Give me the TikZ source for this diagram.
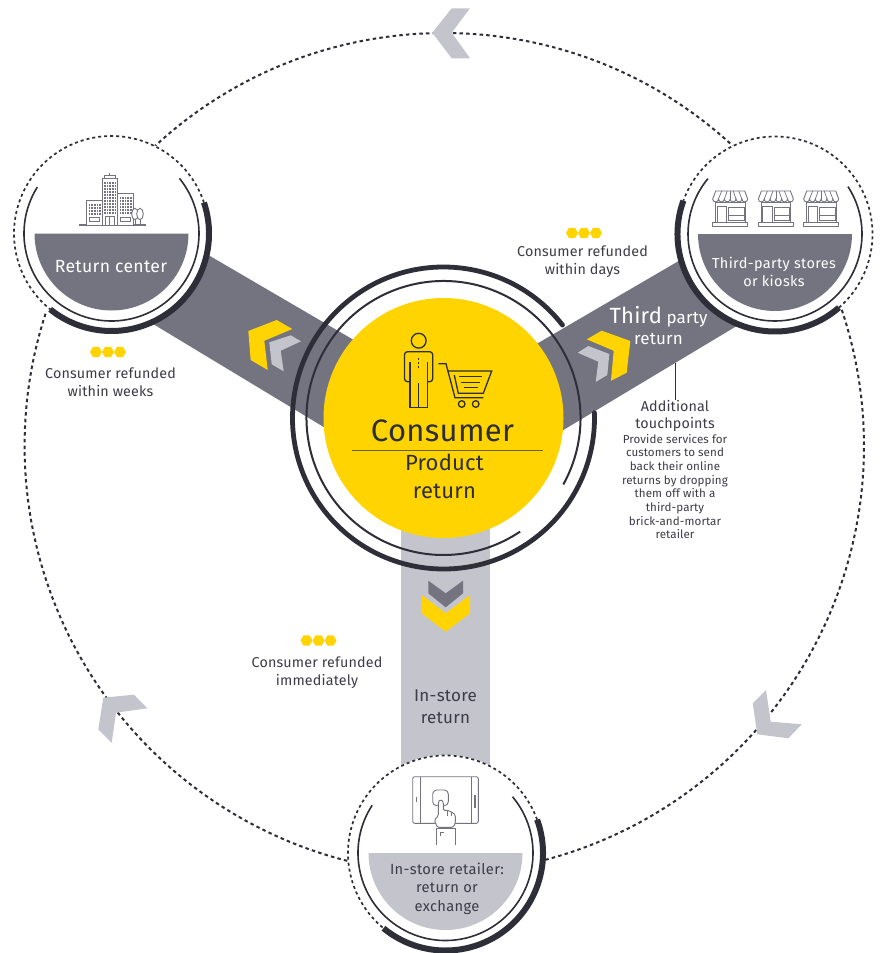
\documentclass[tikz,border=0pt]{standalone}
\usepackage{fontspec}
\setmainfont{Fira Sans}
\definecolor{eydark}{HTML}{2E2E38}
\definecolor{eygrey}{HTML}{747480}
\definecolor{eylight}{HTML}{C4C4CD}
\definecolor{eyyellow}{HTML}{FFD400}
\definecolor{eytext}{HTML}{3C3C46}
\newcommand{\fs}[1]{\fontsize{#1}{#1}\selectfont}
\tikzset{
  lab/.style={inner sep=0pt,align=center,text=eytext,font=\fs{14.3}\addfontfeatures{LetterSpace=1.2},text depth=0pt},
  bigdash/.style={draw=eydark,line width=2pt,dash pattern=on 3.5pt off 3.2pt},
  smalldash/.style={draw=eydark,line width=1.7pt,dash pattern=on 3pt off 3pt},
  thinring/.style={draw=eydark,line width=1.6pt},
  thickring/.style={draw=eydark,line width=6pt},
  satdisc/.style={circle,fill=white,inner sep=0pt,minimum size=196pt},
  icon/.style={draw=eygrey,line width=0.9pt,fill=white},
  pers/.style={draw=eydark,line width=1.3pt},
  storeicon/.pic={
    \draw[icon] (3,11) rectangle (32.5,31);
    \draw[icon] (0,31) rectangle (35,35);
    \draw[icon] (4.5,15.5) rectangle (14,31);
    \draw[icon] (16,16) rectangle (31.5,24);
    \draw[icon] (16,24) rectangle (31.5,29);
    \draw[icon] (3,0) -- (32,0) -- (35,8) arc[start angle=0,end angle=180,radius=2.92] arc[start angle=0,end angle=180,radius=2.92] arc[start angle=0,end angle=180,radius=2.92] arc[start angle=0,end angle=180,radius=2.92] arc[start angle=0,end angle=180,radius=2.92] arc[start angle=0,end angle=180,radius=2.92] -- cycle;
    \foreach \xa/\xb in {5.8/9,11.7/14.5,17.5/17.5,23.3/20.5,29.2/26}
      \draw[draw=eygrey,line width=0.7pt] (\xa,8) -- (\xb,0);
  },
  hexdots/.pic={
    \foreach \hx in {-12,0,12}
      \fill[eyyellow] (\hx,0) +(0:6) -- +(60:6) -- +(120:6) -- +(180:6) -- +(240:6) -- +(300:6) -- cycle;
  }
}
\begin{document}
\begin{tikzpicture}[x=1pt,y=1pt]
\useasboundingbox (0,0) rectangle (881,-953);
\fill[white] (0,0) rectangle (881,-953);

% named anchors
\coordinate (mid) at (443.5,-418);
\coordinate (topc) at (444,-459);
\coordinate (leftc) at (452.6,-446);
\coordinate (rightc) at (436,-446);

% bands
\fill[eygrey] (150,-221) -- (400,-367) -- (380,-461) -- (120,-304) -- cycle;
\fill[eygrey] (730,-231) -- (480,-377) -- (500,-468) -- (770,-306) -- cycle;
\fill[eylight] (401,-500) rectangle (490,-800);

% large dashed arcs
\draw[bigdash,shift={(topc)}] (46:426) arc[start angle=46,end angle=134,radius=426];
\draw[bigdash,shift={(leftc)}] (162:428) arc[start angle=162,end angle=257,radius=428];
\draw[bigdash,shift={(rightc)}] (-77:428) arc[start angle=-77,end angle=19,radius=428];

% satellites
\node[satdisc] (rc) at (111.5,-233.5) {};
\node[satdisc] (tp) at (775,-234) {};
\node[satdisc] (is) at (445.5,-853) {};

% half discs
\fill[eygrey,shift={(rc.center)}] (-77,0) arc[start angle=180,end angle=360,radius=77] -- cycle;
\fill[eygrey,shift={(tp.center)}] (-77,0) arc[start angle=180,end angle=360,radius=77] -- cycle;
\fill[eylight,shift={(is.center)}] (-77,0) arc[start angle=180,end angle=360,radius=77] -- cycle;

% rings of satellites
\draw[thinring,shift={(rc.center)}] (148:87.5) arc[start angle=148,end angle=399,radius=87.5];
\draw[smalldash,shift={(rc.center)}] (18.5:97.5) arc[start angle=18.5,end angle=231,radius=97.5];
\draw[thickring,shift={(rc.center)}] (18.5:97.5) arc[start angle=18.5,end angle=-129,radius=97.5];

\draw[thinring,shift={(tp.center)}] (140.5:87) arc[start angle=140.5,end angle=393,radius=87];
\draw[smalldash,shift={(tp.center)}] (-49:97.5) arc[start angle=-49,end angle=160,radius=97.5];
\draw[thickring,shift={(tp.center)}] (160:97.5) arc[start angle=160,end angle=311,radius=97.5];

\draw[thinring,shift={(is.center)}] (147:87.5) arc[start angle=147,end angle=400,radius=87.5];
\draw[smalldash,shift={(is.center)}] (20:97.5) arc[start angle=20,end angle=230.5,radius=97.5];
\draw[thickring,shift={(is.center)}] (20:97.5) arc[start angle=20,end angle=-129.5,radius=97.5];

% centre
\fill[eyyellow] (mid) circle[radius=120];
\draw[thinring,line width=2pt,shift={(mid)}] (-29:137) arc[start angle=-29,end angle=304,radius=137];
\draw[draw=eydark,line width=4.8pt,line cap=round,shift={(mid)}] (38:151) arc[start angle=38,end angle=362,radius=151];

% chevrons in bands
\fill[eyyellow] (248.3,-331) -- (276.7,-320) -- (292.3,-329) -- (264.3,-340.7) -- (267.7,-370) -- (250.7,-360) -- cycle;
\fill[eylight] (269.3,-342.3) -- (290.7,-335.3) -- (301,-341.3) -- (280.7,-350.7) -- (283.7,-371.3) -- (271.7,-364.3) -- cycle;
\fill[eyyellow] (586.7,-339.3) -- (601.7,-330.7) -- (630.3,-341) -- (626.7,-372.7) -- (611,-380.7) -- (613.7,-350.7) -- cycle;
\fill[eylight] (577.7,-352.7) -- (588.3,-346) -- (609.3,-354) -- (607.3,-375) -- (595.7,-382) -- (598.3,-361.7) -- cycle;
\fill[eygrey] (428.3,-580.7) -- (445.7,-593.3) -- (463,-580.7) -- (463,-593.3) -- (445.7,-607.3) -- (428.3,-593.3) -- cycle;
\fill[eyyellow] (421.7,-595) -- (445.7,-613.3) -- (470,-595) -- (470,-613.3) -- (445.7,-631.7) -- (421.7,-613.3) -- cycle;

% chevrons on big circle
\fill[eylight] (451.7,-8.3) -- (470,-8.3) -- (451.7,-32.7) -- (470,-58.3) -- (451.7,-58.3) -- (432.3,-32.7) -- cycle;
\fill[eylight] (103.3,-697.7) -- (134,-694.7) -- (147.3,-708.3) -- (116,-712.7) -- (111.7,-742.7) -- (98.3,-729.3) -- cycle;
\fill[eylight] (766,-690) -- (770.7,-721.7) -- (801.7,-724.3) -- (788.3,-738.3) -- (757.3,-734.3) -- (752.7,-703.3) -- cycle;

% building icon
\draw[eygrey,line width=1.7pt] (79,-225) -- (146,-225);
\draw[eygrey,line width=1pt] (109.7,-173) -- (109.7,-178);
\draw[icon] (104.7,-175) rectangle (115,-178.5);
\draw[icon] (102,-178.5) rectangle (117.3,-225);
\draw[icon] (86.7,-200.7) rectangle (102,-225);
\draw[icon] (117.3,-193.3) rectangle (133.3,-225);
\foreach \wx in {104.2,106.8,109.4,112,114.6}
  \foreach \wy in {-182,-185,-188,-191,-194,-197,-200,-203,-206,-209,-212}
    \fill[eygrey] (\wx,\wy) rectangle +(1.5,-1.5);
\foreach \wx in {88.8,91.4,94,96.6,99.2}
  \foreach \wy in {-204,-207,-210,-213}
    \fill[eygrey] (\wx,\wy) rectangle +(1.5,-1.5);
\foreach \wx in {119.6,122.2,124.8,127.4,130}
  \foreach \wy in {-197,-200,-203,-206,-209,-212}
    \fill[eygrey] (\wx,\wy) rectangle +(1.5,-1.5);
\draw[icon] (89.5,-217.5) rectangle (99,-221.5);
\draw[icon] (120.5,-217.5) rectangle (130,-221.5);
\draw[icon] (105.5,-216) rectangle (114,-225);
\draw[eygrey,line width=1pt] (109.7,-216) -- (109.7,-225);
\foreach \tx in {135,140} {
  \draw[eygrey,line width=0.9pt] (\tx,-218) -- (\tx,-225);
  \draw[icon] (\tx,-214) ellipse[x radius=3.3,y radius=5.7];
}

% store icons
\pic at (712.7,-191) [yscale=-1] {storeicon};
\pic at (758.4,-191) [yscale=-1] {storeicon};
\pic at (803.7,-191) [yscale=-1] {storeicon};

% tablet icon
\draw[icon,rounded corners=2pt,fill=none] (412.7,-776.7) rectangle (478.3,-823.3);
\draw[eygrey,line width=1pt] (420,-776.7) -- (420,-823.3);
\draw[eygrey,line width=1pt] (471.5,-776.7) -- (471.5,-823.3);
\fill[eygrey] (415.5,-797) rectangle (416.8,-802);
\fill[eygrey] (474.2,-795) rectangle (475.5,-808);
\draw[icon,rounded corners=4pt,fill=none] (432.7,-790) rectangle (448.3,-805.7);
\draw[icon,rounded corners=1.5pt] (437.3,-827.3) -- (434.3,-820) -- (438.3,-816) -- (438.3,-801.7) -- (440.7,-799.3) -- (443.3,-801.7) -- (443.3,-810.7) -- (447.3,-810) -- (449.3,-811.3) -- (453.3,-812.7) -- (455.3,-815) -- (455.3,-823.3) -- (453.3,-827.3) -- cycle;
\draw[eygrey,line width=0.8pt] (447.3,-810) -- (447.3,-816) (451.3,-812) -- (451.3,-816);
\draw[icon,fill=none] (436.7,-845) -- (436.7,-828) -- (455,-828) -- (455,-845);
\draw[eygrey,line width=0.8pt] (440,-836) -- (440,-832) -- (444,-832);

% person icon
\draw[pers] (418.7,-340.7) circle[radius=7.4];
\draw[pers,rounded corners=3pt] (410,-381.7) -- (404.5,-381.7) -- (404.5,-351.7) -- (432.7,-351.7) -- (432.7,-381.7) -- (427.3,-381.7);
\draw[pers] (410,-362) -- (410,-407.7) -- (427.3,-407.7) -- (427.3,-362);
\draw[pers] (418.7,-383) -- (418.7,-407.7);
\draw[pers,line width=1.5pt,dash pattern=on 2pt off 2pt] (418.7,-358) -- (418.7,-370);
% cart icon
\draw[pers] (438.3,-363.7) -- (446,-363.7) -- (455,-397.7) -- (483.3,-397.7);
\draw[pers] (447,-371) -- (491.7,-371) -- (483.3,-393.3) -- (458.3,-393.3) -- (454.3,-375);
\draw[pers,line width=1.5pt] (459,-376.7) -- (481.7,-376.7) (461,-382.3) -- (480,-382.3) (464.3,-387.7) -- (478.3,-387.7);
\draw[pers] (461.7,-404) circle[radius=3.3] (475.7,-404) circle[radius=3.3];

% hexagon dots
\pic at (108,-352) {hexdots};
\pic at (584,-233) {hexdots};
\pic at (318.5,-640.5) {hexdots};

% labels
\node[lab,text=white,font=\fs{17.6}\addfontfeatures{LetterSpace=1.8}] (t1) at (111,-266) {Return center};
\node[lab,text=white,font=\fs{14.5}\addfontfeatures{LetterSpace=2.6}] (t2) at (774,-272) {Third-party stores\\[3pt]or kiosks};
\node[lab,font=\fs{14.7}\addfontfeatures{LetterSpace=2.2}] (t3) at (447,-887) {In-store retailer:\\[4pt]return or\\[4pt]exchange};
\node[lab,text=eydark,font=\fs{31}\addfontfeatures{LetterSpace=1}] (t4) at (442.5,-431) {Consumer};
\draw[draw=eydark!70!eyyellow,line width=0.8pt] (351.5,-450) -- (542.5,-450);
\node[lab,text=eydark,font=\fs{22}\addfontfeatures{LetterSpace=1}] (t5) at (444.5,-476) {Product\\[6pt]return};
\node[lab] (t6) at (110.5,-382) {Consumer refunded\\[3.7pt]within weeks};
\node[lab] (t7) at (582.5,-260) {Consumer refunded\\[3.7pt]within days};
\node[lab] (t8) at (317,-671) {Consumer refunded\\[3.7pt]immediately};
\node[lab,text=white,font=\fs{17}\addfontfeatures{LetterSpace=1}] (t9) at (658.5,-325.5) {{\fs{22}Third} party\\[4pt]return};
\node[lab,font=\fs{14.3}\addfontfeatures{LetterSpace=1}] (t10) at (675,-414.5) {Additional\\[2.7pt]touchpoints};
\node[lab,font=\fs{11.6}\addfontfeatures{LetterSpace=0.7}] (t11) at (675,-486.5) {Provide services for\\[2.1pt]customers to send\\[2.1pt]back their online\\[2.1pt]returns by dropping\\[2.1pt]them off with a\\[2.1pt]third-party\\[2.1pt]brick-and-mortar\\[2.1pt]retailer};
\node[lab,font=\fs{17}\addfontfeatures{LetterSpace=1.5}] (t12) at (445.5,-707) {In-store\\[5pt]return};
\coordinate (leader) at (675.3,-363);
\draw[draw=eydark,line width=0.9pt] (leader) -- (t10.north -| leader);
\end{tikzpicture}
\end{document}
